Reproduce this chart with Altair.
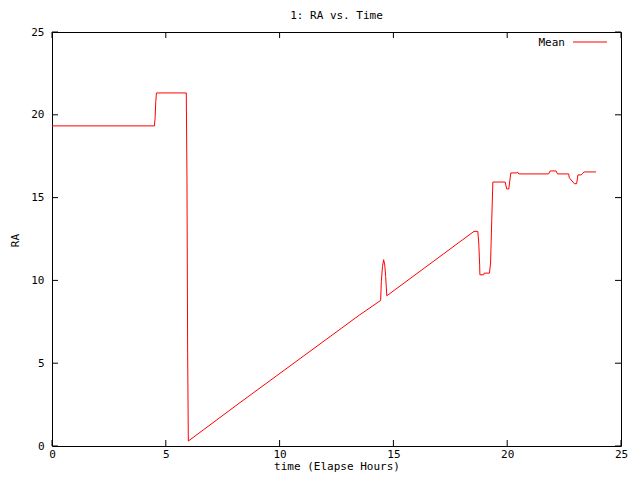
import altair as alt
import pandas as pd

# ---- data ----
time_h = [0.0, 4.50, 4.53, 4.56, 4.59, 5.90, 5.93, 5.96, 5.99, 8.26, 13.52, 14.44,
          14.47, 14.52, 14.57, 14.62, 14.66, 14.71, 18.54, 18.71, 18.75, 18.79, 18.80,
          18.97, 18.99, 19.22, 19.27, 19.32, 19.37, 19.91, 19.98, 20.07, 20.13, 20.16,
          20.42, 20.45, 20.51, 21.82, 21.89, 22.15, 22.21, 22.70, 22.73, 22.95, 23.05,
          23.11, 23.25, 23.38, 23.90]
ra = [19.33, 19.33, 19.80, 20.80, 21.32, 21.32, 16.12, 5.60, 0.30, 2.62, 7.92, 8.79,
      9.93, 10.84, 11.25, 10.93, 10.24, 9.07, 12.96, 12.96, 12.25, 10.94, 10.34,
      10.34, 10.44, 10.44, 11.05, 13.60, 15.94, 15.94, 15.52, 15.52, 16.19, 16.49,
      16.49, 16.55, 16.43, 16.43, 16.61, 16.61, 16.43, 16.43, 16.19, 15.84, 15.84,
      16.37, 16.37, 16.55, 16.55]
x_ticks = [0, 5, 10, 15, 20, 25]
y_ticks = [0, 5, 10, 15, 20, 25]
series_name = "Mean"
title_text = "1: RA vs. Time"
x_title = "time (Elapse Hours)"
y_title = "RA"

# ---- layout / style ----
W, H = 569, 414
TICK = 6
FONT = "DejaVu Sans Mono"
FS = 11
RED = "#ff0000"

df = pd.DataFrame({"time": time_h, "RA": ra})
xt = pd.DataFrame({"time": x_ticks})
yt = pd.DataFrame({"RA": y_ticks})
leg = pd.DataFrame({"s": [series_name]})

xscale = alt.Scale(domain=[0, 25], nice=False, zero=False)
yscale = alt.Scale(domain=[0, 25], nice=False, zero=False)

xaxis = alt.Axis(values=x_ticks, title=x_title, grid=False, ticks=False,
                 domain=False, labelPadding=2, format="d",
                 labelFlush=False, labelOverlap=False,
                 labelFont=FONT, labelFontSize=FS, labelColor="black",
                 titleFont=FONT, titleFontSize=FS, titleFontWeight="normal",
                 titleColor="black", titleY=23.5, titleBaseline="alphabetic")
yaxis = alt.Axis(values=y_ticks, title=y_title, grid=False, ticks=False,
                 domain=False, labelPadding=8, format="d",
                 labelFlush=False, labelOverlap=False,
                 labelFont=FONT, labelFontSize=FS, labelColor="black",
                 titleFont=FONT, titleFontSize=FS, titleFontWeight="normal",
                 titleColor="black", titleAngle=270, titleX=-37, titleY=208,
                 titleAlign="center", titleBaseline="middle")

line = alt.Chart(df).mark_line(color=RED, strokeWidth=1).encode(
    x=alt.X("time:Q", scale=xscale, axis=xaxis),
    y=alt.Y("RA:Q", scale=yscale, axis=yaxis),
)

tick_bottom = alt.Chart(xt).mark_rule(color="black", strokeWidth=1).encode(
    x=alt.X("time:Q", scale=xscale, axis=xaxis), y=alt.value(H), y2=alt.value(H - TICK))
tick_top = alt.Chart(xt).mark_rule(color="black", strokeWidth=1).encode(
    x=alt.X("time:Q", scale=xscale, axis=xaxis), y=alt.value(0), y2=alt.value(TICK))
tick_left = alt.Chart(yt).mark_rule(color="black", strokeWidth=1).encode(
    y=alt.Y("RA:Q", scale=yscale, axis=yaxis), x=alt.value(0), x2=alt.value(TICK))
tick_right = alt.Chart(yt).mark_rule(color="black", strokeWidth=1).encode(
    y=alt.Y("RA:Q", scale=yscale, axis=yaxis), x=alt.value(W), x2=alt.value(W - TICK))

leg_text = alt.Chart(leg).mark_text(align="right", baseline="middle", font=FONT,
                                    fontSize=FS, color="black").encode(
    text="s:N", x=alt.value(513), y=alt.value(11))
leg_line = alt.Chart(leg).mark_rule(color=RED, strokeWidth=1).encode(
    x=alt.value(521), x2=alt.value(555), y=alt.value(10))

chart = alt.layer(line, tick_bottom, tick_top, tick_left, tick_right, leg_text, leg_line).properties(
    width=W, height=H,
    title=alt.TitleParams(title_text, font=FONT, fontSize=FS, fontWeight="normal",
                          color="black", anchor="middle", offset=5),
    autosize=alt.AutoSizeParams(type="none"),
    padding={"left": 44, "top": 24, "right": 11, "bottom": 26},
    background="white",
).configure_view(stroke="black", strokeWidth=1)

chart.save("out.html", embed_options={"renderer": "svg", "actions": False})
